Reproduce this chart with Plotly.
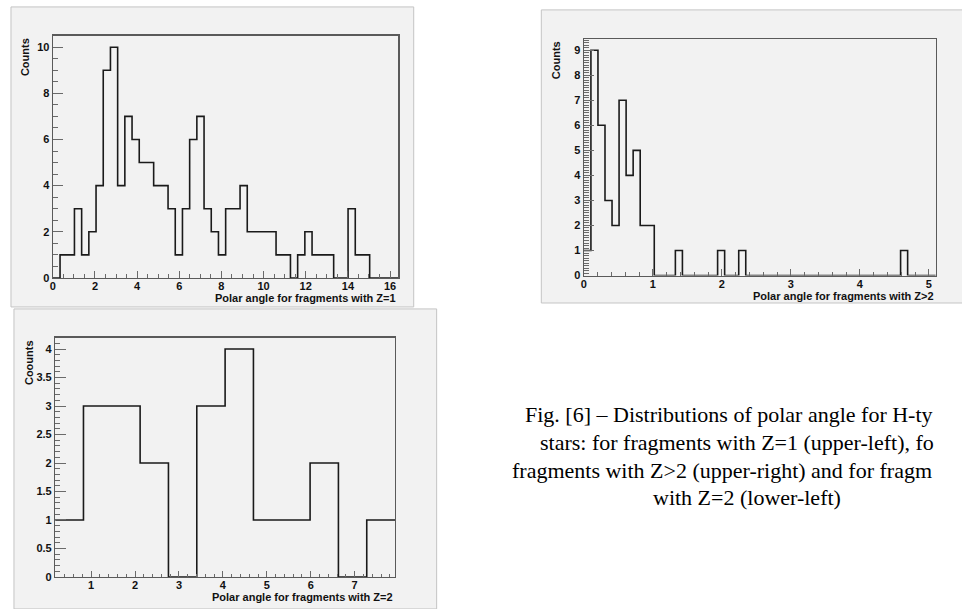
import numpy as np
import plotly.graph_objects as go

W, H = 962, 609

# ---------------- data ----------------
# Z=1 : 48 bins over [0, 16.4]
z1_range = (0.0, 16.4)
z1_counts = [0, 1, 1, 3, 1, 2, 4, 9, 10, 4,
             7, 6, 5, 5, 4, 4, 3, 1, 3, 6,
             7, 3, 2, 1, 3, 3, 4, 2, 2, 2,
             2, 1, 1, 0, 1, 2, 1, 1, 1, 0,
             0, 3, 1, 1, 0, 0, 0, 0]
# Z>2 : 50 bins over [0, 5.1]
z3_range = (0.0, 5.1)
z3_counts = [1, 9, 6, 3, 2, 7, 4, 5, 2, 2,
             0, 0, 0, 1, 0, 0, 0, 0, 0, 1,
             0, 0, 1, 0, 0, 0, 0, 0, 0, 0,
             0, 0, 0, 0, 0, 0, 0, 0, 0, 0,
             0, 0, 0, 0, 0, 1, 0, 0, 0, 0]
# Z=2 : 12 bins over [0.18, 7.92]
z2_range = (0.18, 7.92)
z2_counts = [1, 3, 3, 2, 0, 3, 4, 1, 1, 2, 0, 1]

x_titles = ["Polar angle for fragments with Z=1",
            "Polar angle for fragments with Z>2",
            "Polar angle for fragments with Z=2"]
y_titles = ["Counts", "Counts", "Coounts"]
# caption as visible in the reference (cut by the right edge of the image)
caption_lines = [
    "Fig. [6] \u2013 Distributions of polar angle for H-ty",
    "stars: for fragments with Z=1 (upper-left), fo",
    "fragments with Z>2 (upper-right) and for fragm",
    "with Z=2 (lower-left)",
]


def px(x):
    return x / W


def py(y):
    return 1 - y / H


def edges(rng, n):
    return list(np.linspace(rng[0], rng[1], n + 1))


fig = go.Figure()

LINE = "#1a1a1a"
FRAME = "#5a5a5a"
TICK = "#6a6a6a"
BG = "#f2f2f2"
FONT = "Liberation Sans"

hists = [
    (z1_range, z1_counts, "x", "y"),
    (z3_range, z3_counts, "x2", "y2"),
    (z2_range, z2_counts, "x3", "y3"),
]
for rng, counts, xa, ya in hists:
    e = edges(rng, len(counts))
    fig.add_trace(go.Scatter(
        x=e, y=list(counts) + [counts[-1]], mode="lines",
        line=dict(shape="hv", color=LINE, width=1.6),
        xaxis=xa, yaxis=ya, showlegend=False, hoverinfo="skip"))

# frames (px)
frames = {
    1: dict(x0=50, x1=396.7, y0=36, y1=280.7),
    2: dict(x0=582.7, x1=935.7, y0=39.3, y1=278.3),
    3: dict(x0=52.3, x1=393.3, y0=341, y1=582.7),
}


def axis(domain, rng, dtick, mdtick, tl, mtl, tick0=0, anchor=None, standoff=0):
    return dict(
        domain=domain, range=list(rng), anchor=anchor,
        showgrid=False, zeroline=False,
        showline=True, linecolor=FRAME, linewidth=1.2, mirror=True,
        ticks="inside", ticklen=tl, tickwidth=1, tickcolor=TICK,
        tick0=tick0, dtick=dtick, ticklabelstandoff=standoff,
        tickfont=dict(family=FONT, size=11, color="#111", weight="bold"),
        minor=dict(ticks="inside", ticklen=mtl, tickwidth=1, tickcolor=TICK,
                   dtick=mdtick, tick0=tick0, showgrid=False),
        fixedrange=True,
    )


f = frames[1]
fig.update_layout(
    xaxis=axis([px(f["x0"]), px(f["x1"])], z1_range, 2, 0.5, 7, 4, anchor="y",
               standoff=-2),
    yaxis=axis([py(f["y1"]), py(f["y0"])], (0, 10.5), 2, 0.5, 10, 5, anchor="x"),
)
f = frames[2]
fig.update_layout(
    xaxis2=axis([px(f["x0"]), px(f["x1"])], z3_range, 1, 0.2, 7, 4, anchor="y2",
                standoff=-2),
    yaxis2=axis([py(f["y1"]), py(f["y0"])], (0, 9.45), 1, 0.1, 10, 5, anchor="x2"),
)
f = frames[3]
fig.update_layout(
    xaxis3=axis([px(f["x0"]), px(f["x1"])], z2_range, 1, 0.2, 6, 3, anchor="y3",
                standoff=-2),
    yaxis3=axis([py(f["y1"]), py(f["y0"])], (0, 4.2), 0.5, 0.1, 11, 5, anchor="x3"),
)

# canvas panels
shapes = []
for (x0, y0, x1, y1) in [(8, 7, 412, 310), (540, 10, 975, 306), (11, 312, 435, 615)]:
    shapes.append(dict(type="rect", xref="paper", yref="paper",
                       x0=px(x0), x1=px(x1), y0=py(y1), y1=py(y0),
                       fillcolor=BG, line=dict(color="#c4c4c4", width=1),
                       layer="below"))

annotations = []
title_pos = [  # (x right, y center) for x titles ; (x center, y top) for y titles
    ((396.7, 301.0), (22, 36.5)),
    ((935.7, 298.8), (555, 39.3)),
    ((393.3, 602.6), (25.5, 341.5)),
]
for i in range(3):
    (xr, yc), (yx, yt) = title_pos[i]
    annotations.append(dict(text=x_titles[i], xref="paper", yref="paper",
                            x=px(xr), y=py(yc), xanchor="right", yanchor="middle",
                            showarrow=False,
                            font=dict(family=FONT, size=11, color="#111", weight="bold")))
    annotations.append(dict(text=y_titles[i], xref="paper", yref="paper",
                            x=px(yx), y=py(yt), xanchor="center", yanchor="top",
                            textangle=-90, showarrow=False,
                            font=dict(family=FONT, size=11, color="#111", weight="bold")))

cap_x = [521.7, 536.7, 508.3, 650]
cap_y = [419, 447, 475, 502]
for t, cx, cy in zip(caption_lines, cap_x, cap_y):
    annotations.append(dict(text=t, xref="paper", yref="paper",
                            x=px(cx), y=py(cy), xanchor="left", yanchor="middle",
                            showarrow=False,
                            font=dict(family="Liberation Serif", size=22, color="#000")))

fig.update_layout(
    width=W, height=H, margin=dict(l=0, r=0, t=0, b=0),
    paper_bgcolor="white", plot_bgcolor=BG,
    shapes=shapes, annotations=annotations, showlegend=False,
)

fig.write_html(
    "out.html",
    config={"displayModeBar": False, "staticPlot": True},
    post_script="document.body.style.margin='0';document.body.style.padding='0';"
                "document.body.style.overflow='hidden';",
)
